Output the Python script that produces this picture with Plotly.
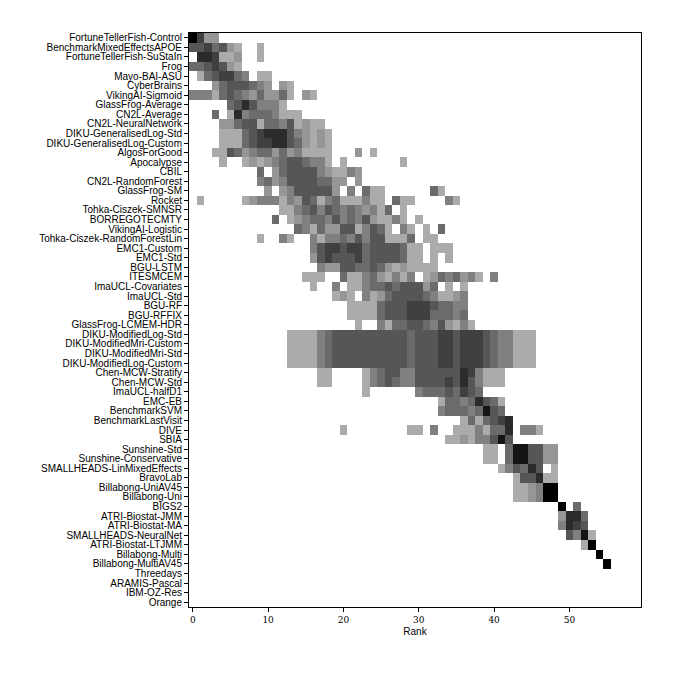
import plotly.graph_objects as go

# ── Team names (top to bottom) ──────────────────────────────────────────────
TEAMS = [
    "FortuneTellerFish-Control", "BenchmarkMixedEffectsAPOE", "FortuneTellerFish-SuStaIn",
    "Frog", "Mayo-BAI-ASU", "CyberBrains", "VikingAI-Sigmoid", "GlassFrog-Average",
    "CN2L-Average", "CN2L-NeuralNetwork", "DIKU-GeneralisedLog-Std",
    "DIKU-GeneralisedLog-Custom", "AlgosForGood", "Apocalypse", "CBIL",
    "CN2L-RandomForest", "GlassFrog-SM", "Rocket", "Tohka-Ciszek-SMNSR",
    "BORREGOTECMTY", "VikingAI-Logistic", "Tohka-Ciszek-RandomForestLin",
    "EMC1-Custom", "EMC1-Std", "BGU-LSTM", "ITESMCEM", "ImaUCL-Covariates",
    "ImaUCL-Std", "BGU-RF", "BGU-RFFIX", "GlassFrog-LCMEM-HDR",
    "DIKU-ModifiedLog-Std", "DIKU-ModifiedMri-Custom", "DIKU-ModifiedMri-Std",
    "DIKU-ModifiedLog-Custom", "Chen-MCW-Stratify", "Chen-MCW-Std", "ImaUCL-halfD1",
    "EMC-EB", "BenchmarkSVM", "BenchmarkLastVisit", "DIVE", "SBIA", "Sunshine-Std",
    "Sunshine-Conservative", "SMALLHEADS-LinMixedEffects", "BravoLab",
    "Billabong-UniAV45", "Billabong-Uni", "BIGS2", "ATRI-Biostat-JMM",
    "ATRI-Biostat-MA", "SMALLHEADS-NeuralNet", "ATRI-Biostat-LTJMM",
    "Billabong-Multi", "Billabong-MultiAV45", "Threedays", "ARAMIS-Pascal",
    "IBM-OZ-Res", "Orange",
]

N_RANKS = 60

# first rank shown for each team, then the frequency level (0 = none, 9 = max)
ROW_START = [
    0, 0, 1, 0, 1, 3, 0, 5, 3, 4, 4, 4, 3, 4, 9, 9, 10, 1, 12, 11,
    14, 9, 16, 16, 17, 15, 16, 19, 21, 21, 22, 13, 13, 13, 13, 17, 17, 23, 33, 33,
    36, 20, 34, 39, 39, 41, 43, 43, 43, 49, 49, 49, 50, 52, 54, 55, 0, 0, 0, 0,
]

ROW_LEVELS = [
    [9, 6, 2, 2],
    [5, 5, 6, 4, 5, 2, 1, 0, 0, 1],
    [7, 7, 6, 1, 1, 2, 0, 0, 1],
    [4, 4, 5, 6, 5, 2, 1],
    [1, 4, 5, 6, 6, 4, 3, 0, 1, 1],
    [2, 4, 5, 5, 5, 4, 3, 2, 0, 2, 1],
    [3, 3, 3, 1, 4, 5, 4, 3, 2, 4, 2, 2, 4, 1, 0, 2, 1],
    [4, 5, 7, 5, 3, 3, 3, 1],
    [4, 0, 1, 7, 3, 4, 4, 4, 3, 1, 1, 1],
    [2, 2, 4, 5, 5, 1, 4, 4, 3, 5, 1, 2, 1, 1],
    [1, 1, 1, 4, 5, 6, 7, 7, 7, 5, 3, 2, 1, 2, 1],
    [1, 1, 1, 4, 5, 6, 6, 7, 7, 5, 4, 2, 1, 2, 1],
    [1, 1, 5, 4, 2, 3, 4, 4, 2, 4, 2, 3, 1, 1, 1, 1, 0, 0, 0, 2, 0, 1],
    [1, 0, 0, 1, 2, 1, 2, 3, 4, 5, 5, 4, 3, 3, 1, 0, 1, 0, 0, 0, 0, 0, 0, 0, 1],
    [4, 0, 2, 4, 5, 5, 5, 5, 3, 2, 1, 1, 3, 2],
    [3, 4, 2, 3, 5, 5, 5, 5, 4, 4, 2, 2, 0, 2],
    [2, 0, 2, 3, 5, 5, 5, 5, 5, 2, 0, 3, 0, 4, 1, 1, 0, 0, 0, 0, 0, 0, 4, 1],
    [1, 0, 0, 0, 0, 0, 1, 2, 3, 3, 3, 1, 3, 2, 5, 4, 1, 3, 4, 1, 1, 1, 3, 1, 1, 0,
     4, 1, 1, 0, 0, 0, 0, 3, 1],
    [1, 1, 3, 4, 5, 3, 5, 4, 3, 4, 3, 2, 3, 1, 4, 0, 1],
    [4, 0, 1, 2, 3, 4, 4, 3, 5, 3, 4, 3, 5, 2, 1, 1, 3, 1, 0, 1],
    [4, 3, 1, 4, 2, 2, 5, 5, 1, 3, 5, 4, 1, 0, 3, 1, 0, 1, 0, 4],
    [1, 0, 0, 3, 1, 0, 0, 3, 1, 3, 3, 4, 3, 5, 3, 5, 5, 1, 1, 1, 4, 0, 1, 1],
    [3, 5, 6, 6, 5, 6, 6, 4, 5, 5, 5, 5, 4, 1, 1, 0, 1, 1, 1],
    [2, 5, 6, 5, 5, 5, 6, 4, 5, 5, 5, 5, 4, 1, 1, 0, 1, 0, 1],
    [3, 2, 2, 5, 5, 4, 4, 5, 4, 2, 1, 2, 1, 1, 1, 1],
    [1, 1, 1, 0, 0, 4, 1, 1, 3, 4, 2, 1, 3, 1, 3, 0, 1, 2, 4, 3, 4, 2, 3, 1, 0, 3],
    [1, 0, 0, 3, 0, 1, 1, 3, 4, 4, 5, 4, 5, 5, 5, 2, 4, 0, 1, 0, 1],
    [1, 2, 1, 0, 3, 1, 2, 4, 5, 5, 5, 5, 4, 3, 1, 1, 2, 3],
    [1, 1, 1, 1, 4, 5, 5, 5, 6, 6, 6, 5, 4, 4, 3, 3],
    [1, 1, 1, 1, 4, 5, 5, 5, 6, 6, 6, 4, 4, 4, 3, 4],
    [1, 0, 0, 3, 1, 4, 4, 5, 5, 4, 3, 5, 2, 1, 3, 1],
    [1, 1, 1, 1, 3, 4, 5, 5, 5, 5, 5, 5, 5, 5, 5, 5, 4, 5, 5, 5, 6, 6, 5, 6, 6, 6,
     5, 4, 3, 3, 1, 1, 1],
    [1, 1, 1, 1, 3, 4, 5, 5, 5, 5, 5, 5, 5, 5, 5, 5, 4, 5, 5, 5, 6, 6, 5, 6, 6, 6,
     5, 4, 3, 3, 1, 1, 1],
    [1, 1, 1, 1, 3, 4, 5, 5, 5, 5, 5, 5, 5, 5, 5, 5, 4, 5, 5, 5, 6, 6, 5, 6, 6, 6,
     5, 4, 3, 3, 1, 1, 1],
    [1, 1, 1, 1, 3, 4, 5, 5, 5, 5, 5, 5, 5, 5, 5, 5, 4, 5, 5, 5, 6, 6, 5, 6, 6, 6,
     5, 4, 3, 3, 1, 1, 1],
    [1, 1, 0, 0, 0, 0, 1, 3, 4, 5, 5, 3, 3, 5, 5, 5, 5, 5, 5, 7, 6, 3, 1, 1, 1],
    [1, 1, 0, 0, 0, 0, 1, 3, 4, 5, 4, 3, 3, 5, 5, 5, 5, 6, 5, 7, 5, 3, 1, 1, 1],
    [1, 0, 0, 0, 0, 0, 0, 3, 4, 4, 4, 5, 4, 6, 5, 4],
    [1, 4, 4, 3, 4, 7, 5, 4, 1],
    [3, 4, 4, 4, 3, 4, 8, 5, 4],
    [1, 4, 1, 4, 5, 6, 7],
    [1, 0, 0, 0, 0, 0, 0, 0, 0, 1, 1, 0, 3, 0, 0, 1, 1, 1, 3, 1, 4, 4, 7, 0, 3, 3, 1],
    [1, 1, 2, 1, 3, 3, 5, 8, 5],
    [1, 1, 0, 4, 8, 8, 5, 5, 2, 2],
    [1, 1, 0, 4, 8, 8, 5, 5, 2, 2],
    [1, 3, 5, 4, 7, 5, 0, 1],
    [1, 5, 5, 7, 1, 1],
    [1, 1, 2, 3, 9, 9],
    [1, 1, 2, 3, 9, 9],
    [9, 0, 4],
    [2, 7, 7, 4],
    [3, 7, 6, 5],
    [5, 3, 8, 1],
    [1, 9],
    [9],
    [9],
    [], [], [], [],
]

X_TICKS = [0, 10, 20, 30, 40, 50]

# ── build the matrix ────────────────────────────────────────────────────────
z = []
for start, levels in zip(ROW_START, ROW_LEVELS):
    row = [None] * N_RANKS
    for j, v in enumerate(levels):
        if v > 0:
            row[start + j] = v
    z.append(row)

fig = go.Figure(go.Heatmap(
    z=z,
    x=list(range(N_RANKS)),
    y=list(range(len(TEAMS))),
    zmin=1, zmax=9,
    colorscale=[[0, "#ababab"], [1, "#000000"]],
    showscale=False,
    hoverongaps=False,
))

# page body adds an 8px offset, margins compensate for it
fig.update_layout(
    width=675, height=675,
    margin=dict(l=181, r=42, t=25, b=76),
    paper_bgcolor="white",
    plot_bgcolor="white",
    font=dict(family="Liberation Sans", size=10, color="black"),
)
fig.update_xaxes(
    range=[-0.5, N_RANKS - 0.5],
    tickvals=X_TICKS,
    ticks="outside", ticklen=4, tickwidth=1, tickcolor="black",
    tickfont=dict(family="DejaVu Serif", size=9),
    showline=True, linecolor="black", linewidth=1, mirror=True,
    showgrid=False, zeroline=False,
    title=dict(text="Rank", font=dict(family="Liberation Sans", size=10), standoff=4),
)
fig.update_yaxes(
    range=[len(TEAMS) - 0.5, -0.5],
    tickvals=list(range(len(TEAMS))),
    ticktext=TEAMS,
    ticks="outside", ticklen=4, tickwidth=1, tickcolor="black",
    showline=True, linecolor="black", linewidth=1, mirror=True,
    showgrid=False, zeroline=False,
)

fig.write_html("out.html")
